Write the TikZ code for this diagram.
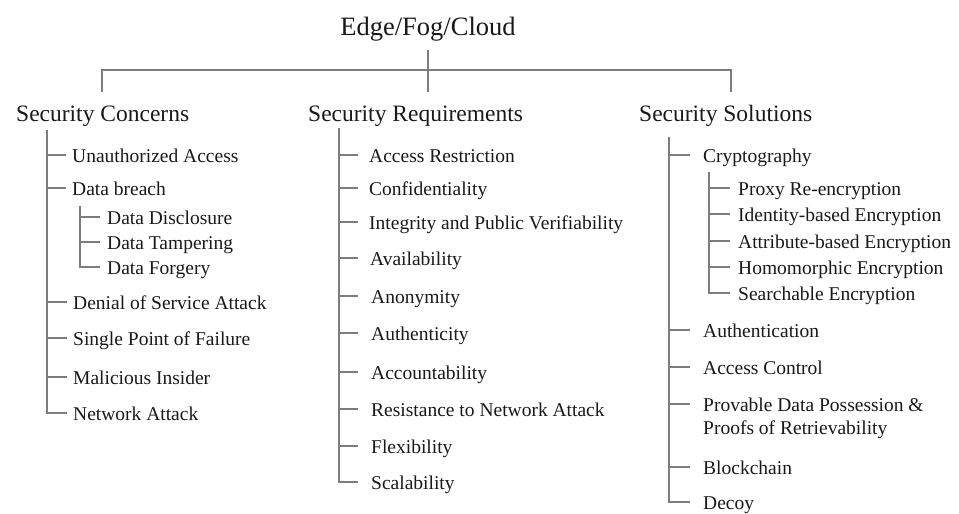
\documentclass[tikz,border=0pt]{standalone}
\usepackage{fontspec}
\setmainfont{Liberation Serif}
\definecolor{linegray}{RGB}{125,125,125}
\definecolor{ink}{RGB}{25,25,25}
\tikzset{
  br/.style={draw=linegray, line width=1.5pt},
  tick/.style={br, shorten >=6pt},
  item/.style={anchor=west, inner sep=0pt, text height=15pt, text depth=1pt,
               font=\fontsize{19.5}{23}\selectfont, text=ink},
  head/.style={anchor=base west, inner sep=0pt, font=\fontsize{23.5}{28}\selectfont, text=ink},
  title/.style={anchor=base, inner sep=0pt, font=\fontsize{26.5}{32}\selectfont, text=ink},
}
\begin{document}
\begin{tikzpicture}[x=1pt,y=-1pt]
\useasboundingbox (0,0) rectangle (959,514);

% root and the three main branches
\node[title] (root) at (428,35) {Edge/Fog/Cloud};
\node[head] (hc) at (16,121) {Security Concerns};
\node[head] (hr) at (308,121) {Security Requirements};
\node[head] (hs) at (639,121) {Security Solutions};

\coordinate (dc) at (102,92);
\coordinate (dr) at (428,92);
\coordinate (ds) at (731,92);
\draw[br] ([yshift=-15pt]root.base) -- (dr);
\draw[br] (dc) -- ++(0,-22) -| (ds);

% ---------- Security Concerns ----------
\node[item] (c1) at (72,155) {Unauthorized Access};
\node[item] (c2) at (72,188) {Data breach};
\node[item] (c21) at (107,217) {Data Disclosure};
\node[item] (c22) at (107,242) {Data Tampering};
\node[item] (c23) at (107,267) {Data Forgery};
\node[item] (c3) at (73,302) {Denial of Service Attack};
\node[item] (c4) at (73,338) {Single Point of Failure};
\node[item] (c5) at (73,377) {Malicious Insider};
\node[item] (c6) at (73,413) {Network Attack};

\coordinate (vc) at (47,130);
\draw[br] (vc) |- ([xshift=-6pt]c6.west);
\foreach \n in {c1,c2,c3,c4,c5} \draw[tick] (vc |- \n.west) -- (\n.west);
\coordinate (vc2) at (80,206);
\draw[br] (vc2) |- ([xshift=-7pt]c23.west);
\foreach \n in {c21,c22} \draw[br, shorten >=7pt] (vc2 |- \n.west) -- (\n.west);

% ---------- Security Requirements ----------
\node[item] (r1) at (369,155) {Access Restriction};
\node[item] (r2) at (369,188) {Confidentiality};
\node[item] (r3) at (369,222) {Integrity and Public Verifiability};
\node[item] (r4) at (370,258) {Availability};
\node[item] (r5) at (371,296) {Anonymity};
\node[item] (r6) at (371,333) {Authenticity};
\node[item] (r7) at (371,372) {Accountability};
\node[item] (r8) at (371,409) {Resistance to Network Attack};
\node[item] (r9) at (371,446) {Flexibility};
\node[item] (r10) at (371,482) {Scalability};

\coordinate (vr) at (339,128);
\draw[br] (vr) |- ([xshift=-13pt]r10.west);
\foreach \n in {r1,r2,r3,r4,r5,r6,r7,r8,r9}
  \draw[br] (vr |- \n.west) -- ++(19,0);

% ---------- Security Solutions ----------
\node[item] (s1) at (703,155) {Cryptography};
\node[item] (s11) at (738,188) {Proxy Re-encryption};
\node[item] (s12) at (738,214) {Identity-based Encryption};
\node[item] (s13) at (738,241) {Attribute-based Encryption};
\node[item] (s14) at (738,267) {Homomorphic Encryption};
\node[item] (s15) at (738,293) {Searchable Encryption};
\node[item] (s2) at (703,330) {Authentication};
\node[item] (s3) at (703,367) {Access Control};
\node[item] (s4) at (703,404) {Provable Data Possession \&};
\node[item] (s4b) at (703,427) {Proofs of Retrievability};
\node[item] (s5) at (703,467) {Blockchain};
\node[item] (s6) at (703,502) {Decoy};

\coordinate (vs) at (669,137);
\draw[br] (vs) |- ([xshift=-13pt]s6.west);
\foreach \n in {s1,s2,s3,s4,s5}
  \draw[br, shorten >=13pt] (vs |- \n.west) -- (\n.west);
\coordinate (vs2) at (709,172);
\draw[br] (vs2) |- ([xshift=-8pt]s15.west);
\foreach \n in {s11,s12,s13,s14}
  \draw[br, shorten >=8pt] (vs2 |- \n.west) -- (\n.west);
\end{tikzpicture}
\end{document}
